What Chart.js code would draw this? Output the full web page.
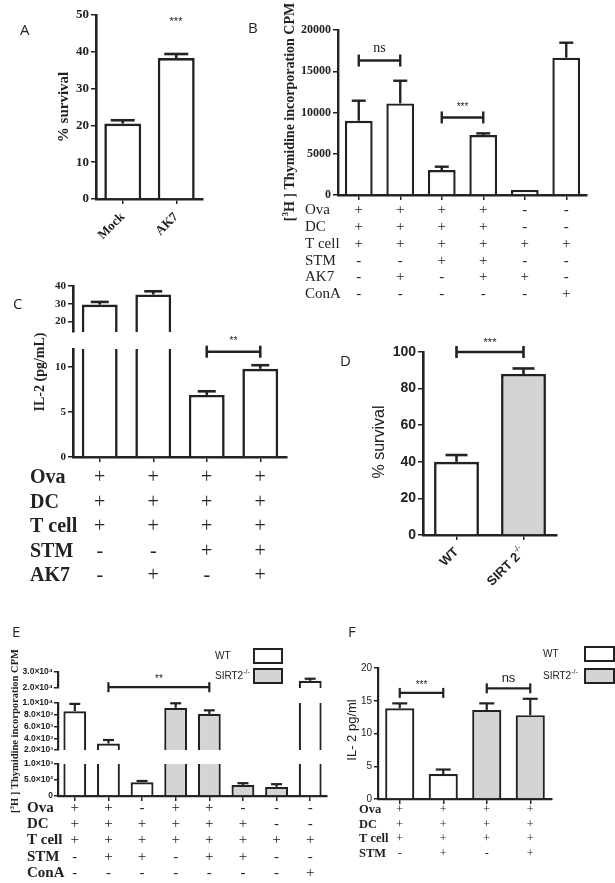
<!DOCTYPE html>
<html>
<head>
<meta charset="utf-8">
<script src="https://cdn.jsdelivr.net/npm/chart.js@4"></script>
<style>
  html, body { margin: 0; padding: 0; background: #fff; }
  body { position: relative; width: 615px; height: 883px; overflow: hidden; }
  canvas { position: absolute; }
</style>
</head>
<body>
<script>
const SERIF = '"Liberation Serif", "Times New Roman", serif';
const SANS = '"Liberation Sans", Arial, sans-serif';
const LETTER = '"Open Sans", "Noto Sans", sans-serif';
const INK = '#222';
const GREY = '#d4d4d4';

// ---- panel A
const aLabels = ['Mock', 'AK7'];
const aValues = [20.5, 38.3];
const aErrors = [21.4, 39.4];
const aTicks = [0, 10, 20, 30, 40, 50];

// ---- panel B
const bValues = [9000, 11100, 3030, 7270, 600, 16650];
const bErrors = [11430, 13850, 3430, 7470, 600, 18460];
const bTicks = [0, 5000, 10000, 15000, 20000];
const bRows = ['Ova', 'DC', 'T cell', 'STM', 'AK7', 'ConA'];
const bTable = [
  ['+', '+', '+', '+', '-', '-'],
  ['+', '+', '+', '+', '-', '-'],
  ['+', '+', '+', '+', '+', '+'],
  ['-', '-', '+', '+', '-', '-'],
  ['-', '+', '-', '+', '+', '-'],
  ['-', '-', '-', '-', '-', '+'],
];

// ---- panel C (broken axis)
const cValues = [29.5, 35.2, 6.9, 9.8];
const cErrors = [31, 37, 7.3, 10.2];
const cTicksTop = [20, 30, 40];
const cTicksBottom = [0, 5, 10];
const cRows = ['Ova', 'DC', 'T cell', 'STM', 'AK7'];
const cTable = [
  ['+', '+', '+', '+'],
  ['+', '+', '+', '+'],
  ['+', '+', '+', '+'],
  ['-', '-', '+', '+'],
  ['-', '+', '-', '+'],
];

// ---- panel D
const dLabels = ['WT', 'SIRT 2'];
const dValues = [40, 88];
const dErrors = [43.7, 91];
const dTicks = [0, 20, 40, 60, 80, 100];

// ---- panel E (two breaks)
const eValues = [8600, 3100, 430, 9200, 8150, 345, 285, 24500];
const eErrors = [9850, 3700, 470, 9950, 8750, 400, 370, 25800];
const eGroups = ['WT', 'WT', 'WT', 'SIRT2', 'SIRT2', 'SIRT2', 'SIRT2', 'WT'];
const eTicksTop = [20000, 30000];
const eTickTextTop = ['2.0×10⁴', '3.0×10⁴'];
const eTicksMid = [2000, 4000, 6000, 8000, 10000];
const eTickTextMid = ['2.0×10³', '4.0×10³', '6.0×10³', '8.0×10³', '1.0×10⁴'];
const eTicksBottom = [0, 500, 1000];
const eTickTextBottom = ['0', '5.0×10²', '1.0×10³'];
const eRows = ['Ova', 'DC', 'T cell', 'STM', 'ConA'];
const eTable = [
  ['+', '+', '-', '+', '+', '-', '-', '-'],
  ['+', '+', '+', '+', '+', '+', '-', '-'],
  ['+', '+', '+', '+', '+', '+', '+', '+'],
  ['-', '+', '+', '-', '+', '+', '-', '-'],
  ['-', '-', '-', '-', '-', '-', '-', '+'],
];

// ---- panel F
const fValues = [13.85, 3.8, 13.6, 12.8];
const fErrors = [14.6, 4.5, 14.6, 15.3];
const fGroups = ['WT', 'WT', 'SIRT2', 'SIRT2'];
const fTicks = [0, 5, 10, 15, 20];
const fRows = ['Ova', 'DC', 'T cell', 'STM'];
const fTable = [
  ['+', '+', '+', '+'],
  ['+', '+', '+', '+'],
  ['+', '+', '+', '+'],
  ['-', '+', '-', '+'],
];

const groupFill = g => (g === 'WT' ? '#fff' : GREY);

// draw a run of text pieces (for superscripts), optionally rotated
function rich(ctx, parts, x, y, align, rot) {
  ctx.save();
  ctx.translate(x, y);
  if (rot) ctx.rotate(rot * Math.PI / 180);
  ctx.textBaseline = 'middle';
  ctx.textAlign = 'left';
  let w = 0;
  parts.forEach(p => { ctx.font = p.font; w += ctx.measureText(p.t).width; });
  let cx = align === 'right' ? -w : align === 'center' ? -w / 2 : 0;
  parts.forEach(p => {
    ctx.font = p.font;
    ctx.fillText(p.t, cx, p.dy || 0);
    cx += ctx.measureText(p.t).width;
  });
  ctx.restore();
}

const extras = o => ({
  id: 'extras',
  afterDraw(chart) {
    const ctx = chart.ctx;
    const x = chart.scales.x, y = chart.scales.y;
    const ox = o.box[0], oy = o.box[1];
    const area = chart.chartArea;
    ctx.save();
    ctx.strokeStyle = INK;
    ctx.fillStyle = INK;
    ctx.lineCap = 'butt';
    const seg = (x0, y0, x1, y1) => { ctx.beginPath(); ctx.moveTo(x0, y0); ctx.lineTo(x1, y1); ctx.stroke(); };

    // error bars, only in the segment holding the bar top
    if (o.errors) {
      ctx.lineWidth = o.lw;
      o.values.forEach((v, i) => {
        const e = o.errors[i];
        if (e <= v || v < y.min || v > y.max) return;
        const cx = x.getPixelForValue(i);
        const p0 = y.getPixelForValue(v), p1 = y.getPixelForValue(e);
        seg(cx, p0, cx, p1);
        seg(cx - o.cap / 2, p1, cx + o.cap / 2, p1);
      });
    }

    // significance brackets
    (o.brackets || []).forEach(b => {
      const xa = x.getPixelForValue(b.a), xb = x.getPixelForValue(b.b);
      const py = y.getPixelForValue(b.v);
      ctx.lineWidth = b.lw || o.lw;
      seg(xa, py, xb, py);
      seg(xa, py - b.h, xa, py + b.h);
      seg(xb, py - b.h, xb, py + b.h);
      ctx.textAlign = 'center';
      ctx.textBaseline = 'alphabetic';
      ctx.font = b.font;
      ctx.fillText(b.text, (xa + xb) / 2, py - b.gap);
    });

    // rotated category labels under the axis
    if (o.xlabels) {
      o.xlabels.parts.forEach((parts, i) => {
        rich(ctx, parts, x.getPixelForValue(i) + o.xlabels.dx, area.bottom + o.xlabels.dy, 'right', -45);
      });
    }

    // condition table
    if (o.table) {
      const t = o.table;
      t.rows.forEach((r, ri) => {
        const ry = t.ys[ri] - oy;
        ctx.textBaseline = 'middle';
        ctx.textAlign = 'left';
        ctx.font = t.labelFont;
        ctx.fillText(r, t.labelX - ox, ry);
        ctx.textAlign = 'center';
        ctx.font = t.symFont;
        t.cells[ri].forEach((s, ci) => ctx.fillText(s, x.getPixelForValue(ci), ry));
      });
    }

    // legend boxes
    (o.legend || []).forEach(l => {
      rich(ctx, l.parts, l.x - ox, l.y - oy, 'left', 0);
      ctx.fillStyle = l.fill;
      ctx.fillRect(l.box[0] - ox, l.box[1] - oy, l.box[2], l.box[3]);
      ctx.lineWidth = 2;
      ctx.strokeRect(l.box[0] - ox, l.box[1] - oy, l.box[2], l.box[3]);
      ctx.fillStyle = INK;
    });

    // free text, page coordinates
    (o.texts || []).forEach(t => {
      rich(ctx, t.parts || [{ t: t.t, font: t.font }], t.x - ox, t.y - oy, t.align || 'center', t.rot || 0);
    });
    ctx.restore();
  }
});

function makeChart(o) {
  const [bl, bt, bw, bh] = o.box;
  const [ax0, ay0, ax1, ay1] = o.area;
  const cv = document.createElement('canvas');
  cv.width = bw;
  cv.height = bh;
  cv.style.left = bl + 'px';
  cv.style.top = bt + 'px';
  cv.style.width = bw + 'px';
  cv.style.height = bh + 'px';
  document.body.appendChild(cv);
  const showX = o.showX !== false;
  const lw = o.lw;
  new Chart(cv.getContext('2d'), {
    type: 'bar',
    data: {
      labels: o.values.map((_, i) => i),
      datasets: [{
        data: o.values,
        backgroundColor: o.colors,
        borderColor: INK,
        borderWidth: lw,
        borderSkipped: 'start',
        barPercentage: o.barPct,
        categoryPercentage: 1,
        clip: { left: 10, right: 10, top: 0, bottom: 0 },
      }],
    },
    plugins: [extras(o)],
    options: {
      responsive: false,
      animation: false,
      events: [],
      layout: {
        padding: { left: 0, top: ay0 - bt, right: bl + bw - ax1, bottom: showX ? 0 : bt + bh - ay1 },
      },
      plugins: { legend: { display: false }, tooltip: { enabled: false } },
      scales: {
        x: {
          display: showX,
          z: 1,
          offset: true,
          grid: { offset: false, drawOnChartArea: false, tickLength: 5, color: INK, lineWidth: 1.5 },
          border: { display: true, color: INK, width: lw },
          ticks: { display: false },
          afterFit: s => { s.height = bt + bh - ay1; },
        },
        y: {
          min: o.min,
          max: o.max,
          z: 1,
          grid: { drawOnChartArea: false, tickLength: o.tickLen || 5, color: INK, lineWidth: 1.5 },
          border: { display: true, color: INK, width: lw },
          ticks: {
            font: o.tickFont,
            color: INK,
            autoSkip: false,
            padding: o.tickPad === undefined ? 2 : o.tickPad,
            callback: v => (o.tickText ? o.tickText[o.ticks.indexOf(v)] : v),
          },
          afterBuildTicks: s => { s.ticks = o.ticks.map(v => ({ value: v })); },
          afterFit: s => { s.width = ax0 - bl; },
        },
      },
    },
  });
}

const letter = (t, x, y) => ({ t, x, y, font: `15px ${LETTER}`, align: 'left' });
const eTickFont = { family: SANS, size: 8.5, weight: 'bold' };

// ---- A
makeChart({
  box: [0, 0, 215, 250], area: [96, 15, 203, 199],
  values: aValues, errors: aErrors, colors: '#fff', barPct: 0.69, lw: 2.6, cap: 24,
  min: 0, max: 50, ticks: aTicks,
  tickFont: { family: SERIF, size: 13, weight: 'bold' },
  xlabels: { dx: 0, dy: 16, parts: aLabels.map(t => [{ t, font: `bold 13px ${SERIF}` }]) },
  texts: [
    letter('A', 20, 31),
    { t: '% survival', font: `bold 15px ${SERIF}`, x: 64, y: 107, rot: -90 },
    { t: '***', font: `11px ${SANS}`, x: 176, y: 22 },
  ],
});

// ---- B
makeChart({
  box: [240, 0, 375, 305], area: [338, 30, 587, 195],
  values: bValues, errors: bErrors, colors: '#fff', barPct: 0.67, lw: 2.4, cap: 14,
  min: 0, max: 20000, ticks: bTicks,
  tickFont: { family: SERIF, size: 12, weight: 'bold' },
  brackets: [
    { a: 0, b: 1, v: 16300, h: 6, text: 'ns', font: `14px ${SERIF}`, gap: 9 },
    { a: 2, b: 3, v: 9400, h: 6, text: '***', font: `10px ${SANS}`, gap: 7 },
  ],
  table: {
    rows: bRows, cells: bTable, ys: [210, 227, 244, 261, 277, 294], labelX: 305,
    labelFont: `15px ${SERIF}`, symFont: `15px ${SERIF}`,
  },
  texts: [
    letter('B', 248, 29),
    { parts: [
        { t: '[', font: `bold 14px ${SERIF}` },
        { t: '3', font: `bold 9px ${SERIF}`, dy: -4 },
        { t: 'H ] Thymidine incorporation CPM', font: `bold 14px ${SERIF}` },
      ], x: 290, y: 112, rot: -90 },
  ],
});

// ---- C upper segment
makeChart({
  box: [20, 270, 280, 72], area: [73, 286, 287, 337], showX: false,
  values: cValues, errors: cErrors, colors: '#fff', barPct: 0.67, lw: 2.6, cap: 18,
  min: 14, max: 40, ticks: cTicksTop,
  tickFont: { family: SERIF, size: 11, weight: 'bold' },
});

// ---- C lower segment
makeChart({
  box: [0, 295, 300, 300], area: [73, 349, 287, 457],
  values: cValues, errors: cErrors, colors: '#fff', barPct: 0.67, lw: 2.6, cap: 18,
  min: 0, max: 12, ticks: cTicksBottom,
  tickFont: { family: SERIF, size: 11, weight: 'bold' },
  brackets: [{ a: 2, b: 3, v: 11.7, h: 6, text: '**', font: `10px ${SANS}`, gap: 8 }],
  table: {
    rows: cRows, cells: cTable, ys: [478, 503, 527, 552, 576], labelX: 30,
    labelFont: `bold 20px ${SERIF}`, symFont: `20px ${SERIF}`,
  },
  texts: [
    letter('C', 13, 305),
    { t: 'IL-2 (pg/mL)', font: `bold 14px ${SERIF}`, x: 40, y: 372, rot: -90 },
  ],
});

// ---- D
makeChart({
  box: [330, 330, 285, 260], area: [423, 352, 557, 535],
  values: dValues, errors: dErrors, colors: ['#fff', GREY], barPct: 0.67, lw: 2.6, cap: 22,
  min: 0, max: 100, ticks: dTicks,
  tickFont: { family: SANS, size: 14, weight: 'bold' },
  brackets: [{ a: 0, b: 1, v: 100, h: 6, text: '***', font: `11px ${SANS}`, gap: 6 }],
  xlabels: { dx: 0, dy: 15, parts: [
    [{ t: dLabels[0], font: `bold 13px ${SANS}` }],
    [{ t: dLabels[1], font: `bold 13px ${SANS}` }, { t: '-/-', font: `8px ${SANS}`, dy: -5 }],
  ] },
  texts: [
    letter('D', 340, 362),
    { t: '% survival', font: `16px ${SANS}`, x: 380, y: 442, rot: -90 },
  ],
});

// ---- E bottom segment (carries axis, table, legend)
makeChart({
  box: [0, 615, 340, 268], area: [58, 764, 327, 796],
  values: eValues, errors: eErrors, colors: eGroups.map(groupFill), barPct: 0.68, lw: 2.2, cap: 11,
  min: 0, max: 1000, ticks: eTicksBottom, tickText: eTickTextBottom, tickLen: 4, tickPad: 1,
  tickFont: eTickFont,
  table: {
    rows: eRows, cells: eTable, ys: [808, 824, 840, 857, 873], labelX: 27,
    labelFont: `bold 15px ${SERIF}`, symFont: `15px ${SERIF}`,
  },
  legend: [
    { parts: [{ t: 'WT', font: `10px ${SANS}` }], x: 215, y: 656, box: [254, 649, 28, 14], fill: '#fff' },
    { parts: [{ t: 'SIRT2', font: `10px ${SANS}` }, { t: '-/-', font: `7px ${SANS}`, dy: -4 }], x: 215, y: 676, box: [254, 669, 28, 14], fill: GREY },
  ],
  texts: [
    letter('E', 12, 633),
    { parts: [
        { t: '[', font: `bold 10.5px ${SERIF}` },
        { t: '3', font: `bold 7px ${SERIF}`, dy: -3 },
        { t: 'H ] Thymidine incorporation CPM', font: `bold 10.5px ${SERIF}` },
      ], x: 15, y: 731, rot: -90 },
  ],
});

// ---- E middle segment
makeChart({
  box: [0, 690, 340, 70], area: [58, 703, 327, 755], showX: false,
  values: eValues, errors: eErrors, colors: eGroups.map(groupFill), barPct: 0.68, lw: 2.2, cap: 11,
  min: 2000, max: 10000, ticks: eTicksMid, tickText: eTickTextMid, tickLen: 4, tickPad: 1,
  tickFont: eTickFont,
});

// ---- E top segment
makeChart({
  box: [0, 640, 340, 60], area: [58, 672, 327, 694], showX: false,
  values: eValues, errors: eErrors, colors: eGroups.map(groupFill), barPct: 0.68, lw: 2.2, cap: 11,
  min: 20000, max: 30000, ticks: eTicksTop, tickText: eTickTextTop, tickLen: 4, tickPad: 1,
  tickFont: eTickFont,
  brackets: [{ a: 1, b: 4, v: 20500, h: 5, text: '**', font: `10px ${SANS}`, gap: 5 }],
});

// ---- F
makeChart({
  box: [335, 615, 280, 268], area: [378, 668, 552, 799],
  values: fValues, errors: fErrors, colors: fGroups.map(groupFill), barPct: 0.67, lw: 2.2, cap: 15,
  min: 0, max: 20, ticks: fTicks, tickLen: 4,
  tickFont: { family: SANS, size: 10 },
  brackets: [
    { a: 0, b: 1, v: 16.2, h: 5, text: '***', font: `10px ${SANS}`, gap: 5 },
    { a: 2, b: 3, v: 16.9, h: 5, text: 'ns', font: `13px ${SANS}`, gap: 6 },
  ],
  table: {
    rows: fRows, cells: fTable, ys: [810, 825, 839, 854], labelX: 359,
    labelFont: `bold 12.5px ${SERIF}`, symFont: `12px ${SERIF}`,
  },
  legend: [
    { parts: [{ t: 'WT', font: `10px ${SANS}` }], x: 543, y: 654, box: [585, 647, 29, 14], fill: '#fff' },
    { parts: [{ t: 'SIRT2', font: `10px ${SANS}` }, { t: '-/-', font: `7px ${SANS}`, dy: -4 }], x: 543, y: 676, box: [585, 669, 29, 14], fill: GREY },
  ],
  texts: [
    letter('F', 348, 633),
    { t: 'IL- 2 pg/ml', font: `13px ${SANS}`, x: 352, y: 730, rot: -90 },
  ],
});
</script>
</body>
</html>
